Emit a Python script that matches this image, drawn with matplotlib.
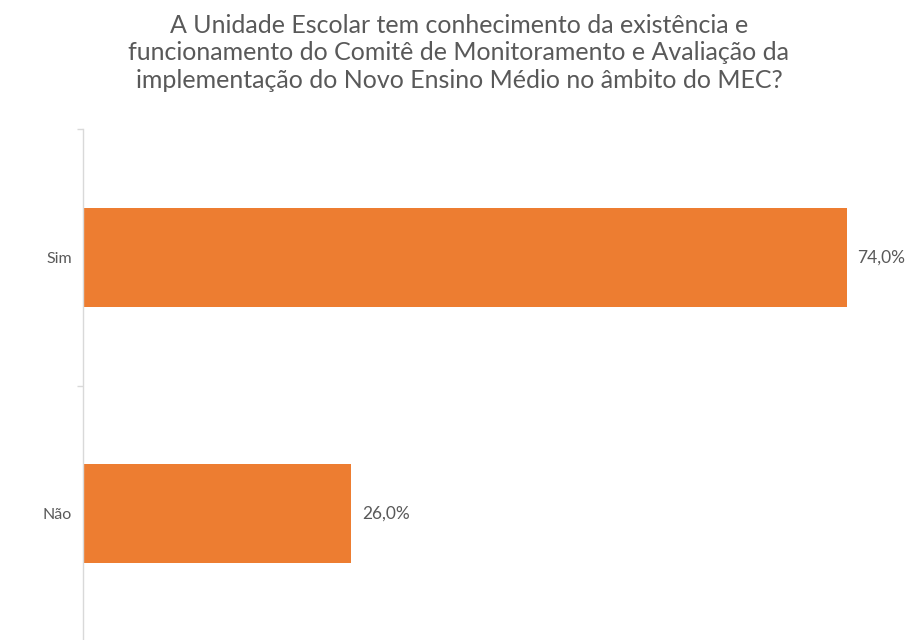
import matplotlib
matplotlib.use("Agg")
import matplotlib.pyplot as plt

categories = ["Não", "Sim"]
values = [26.0, 74.0]
title = ("A Unidade Escolar tem conhecimento da existência e\n"
         "funcionamento do Comitê de Monitoramento e Avaliação da\n"
         "implementação do Novo Ensino Médio no âmbito do MEC?")

bar_color = "#ED7D31"
text_color = "#595959"
axis_color = "#D9D9D9"

plt.rcParams["font.family"] = ["Lato", "DejaVu Sans"]

fig = plt.figure(figsize=(9.18, 6.4), dpi=100)
W, H = 918, 640
left, right = 83, 909
top, bottom = 129, 642
ax = fig.add_axes([left / W, 1 - bottom / H, (right - left) / W, (bottom - top) / H])

ypos = list(range(len(categories)))
ax.barh(ypos, values, height=0.385, color=bar_color)
ax.set_xlim(0, 80)
ax.set_ylim(-0.5, len(categories) - 0.5)

for y, v in zip(ypos, values):
    ax.text(v + 1.0, y, f"{v:.1f}%".replace(".", ","), va="center", ha="left",
            fontsize=12.5, color=text_color)

ax.set_yticks(ypos)
ax.set_yticklabels(categories, fontsize=11.5, color=text_color)
ax.tick_params(axis="y", length=0, pad=8)
ax.set_yticks([-0.5, 0.5, 1.5], minor=True)
ax.tick_params(axis="y", which="minor", length=4, color=axis_color, width=1)
ax.set_xticks([])

for s in ["top", "right", "bottom"]:
    ax.spines[s].set_visible(False)
ax.spines["left"].set_color(axis_color)
ax.spines["left"].set_linewidth(1)

fig.text(0.5, 1 - 53 / H, title, ha="center", va="center", fontsize=18,
         color=text_color, linespacing=1.26)

fig.savefig("out.png", dpi=100, facecolor="white")
